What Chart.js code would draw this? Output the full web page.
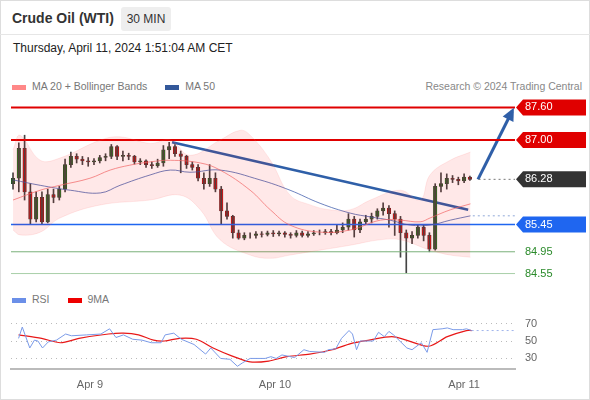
<!DOCTYPE html>
<html><head><meta charset="utf-8">
<script src="https://cdn.jsdelivr.net/npm/chart.js@4/dist/chart.umd.min.js"></script>
<style>
body{margin:0;width:590px;height:400px;font-family:"Liberation Sans",Arial,sans-serif;background:#fff;position:relative;overflow:hidden}
#frame{position:absolute;left:0;top:0;width:588px;height:398px;border:1px solid #ddd}
.t{position:absolute;white-space:nowrap}
#c1{position:absolute;left:0;top:90px}
#c2{position:absolute;left:0;top:300px}
</style></head><body>
<div id="frame"></div>
<div class="t" style="left:12px;top:10px;font-size:14px;font-weight:bold;color:#333">Crude Oil (WTI)</div>
<div class="t" style="left:121px;top:7px;width:50px;height:24px;background:#eee;border-radius:3px;font-size:12px;color:#333;line-height:24px;text-align:center">30 MIN</div>
<div class="t" style="left:0;top:34px;width:590px;border-top:1px solid #e6e6e6"></div>
<div class="t" style="left:13px;top:41px;font-size:12px;color:#222">Thursday, April 11, 2024 1:51:04 AM CET</div>
<div class="t" style="left:12px;top:80px;font-size:10.5px;color:#777"><span style="display:inline-block;width:14px;height:5px;background:#f88;vertical-align:middle;margin-right:6px"></span>MA 20 + Bollinger Bands<span style="display:inline-block;width:14px;height:5px;background:#33589a;vertical-align:middle;margin:0 6px 0 18px"></span>MA 50</div>
<div class="t" style="right:8px;top:80px;font-size:10.5px;color:#888">Research © 2024 Trading Central</div>
<div class="t" style="left:12px;top:293px;font-size:10.5px;color:#777"><span style="display:inline-block;width:14px;height:5px;background:#6b8fe8;vertical-align:middle;margin-right:6px"></span>RSI<span style="display:inline-block;width:14px;height:5px;background:#e00;vertical-align:middle;margin:0 6px 0 18px"></span>9MA</div>
<canvas id="c1" width="590" height="195"></canvas>
<canvas id="c2" width="590" height="100"></canvas>
<script>
// [open, high, low, close]
const candles = [
[86.20,86.40,86.10,86.30],[86.30,86.95,86.05,86.85],[86.85,87.09,85.90,86.05],[86.05,86.20,85.45,85.55],
[85.55,86.05,85.50,85.95],[85.95,86.05,85.45,85.50],[85.50,86.10,85.48,86.00],[86.00,86.10,85.85,85.95],
[85.95,86.15,85.90,86.10],[86.10,86.65,86.05,86.55],[86.55,86.78,86.50,86.70],[86.70,86.75,86.58,86.65],
[86.65,86.70,86.55,86.62],[86.62,86.68,86.52,86.60],[86.60,86.66,86.55,86.62],[86.62,86.72,86.58,86.68],
[86.68,86.75,86.62,86.70],[86.70,86.92,86.66,86.88],[86.88,86.90,86.64,86.70],[86.70,86.80,86.62,86.72],
[86.72,86.76,86.64,86.70],[86.70,86.72,86.56,86.60],[86.60,86.66,86.55,86.62],[86.62,86.64,86.50,86.55],
[86.55,86.60,86.48,86.53],[86.53,86.65,86.50,86.58],[86.58,86.90,86.52,86.82],[86.82,86.96,86.66,86.88],
[86.88,86.92,86.70,86.75],[86.75,86.80,86.40,86.70],[86.70,86.72,86.48,86.55],[86.55,86.60,86.45,86.50],
[86.50,86.55,86.25,86.30],[86.30,86.40,86.10,86.20],[86.20,86.55,86.15,86.30],[86.30,86.40,86.05,86.10],
[86.10,86.15,85.45,85.70],[85.70,85.85,85.55,85.60],[85.60,85.62,85.20,85.30],[85.30,85.35,85.18,85.20],
[85.20,85.30,85.17,85.25],[85.25,85.30,85.20,85.25],[85.25,85.32,85.20,85.28],[85.28,85.32,85.22,85.27],
[85.27,85.33,85.24,85.30],[85.30,85.34,85.23,85.28],[85.28,85.33,85.24,85.30],[85.30,85.32,85.22,85.27],
[85.27,85.30,85.20,85.25],[85.25,85.34,85.22,85.30],[85.30,85.33,85.22,85.25],[85.25,85.32,85.22,85.28],
[85.28,85.34,85.25,85.30],[85.30,85.35,85.26,85.30],[85.30,85.36,85.27,85.32],[85.32,85.36,85.26,85.30],
[85.30,85.45,85.28,85.35],[85.35,85.48,85.30,85.40],[85.40,85.65,85.35,85.55],[85.55,85.60,85.22,85.35],
[85.35,85.55,85.30,85.50],[85.50,85.62,85.45,85.55],[85.55,85.66,85.48,85.60],[85.60,85.74,85.55,85.70],
[85.70,85.85,85.62,85.75],[85.75,85.80,85.40,85.65],[85.65,85.70,85.25,85.55],[85.55,85.60,84.85,85.30],
[85.30,85.35,84.55,85.20],[85.20,85.32,85.10,85.25],[85.25,85.45,85.20,85.40],[85.40,85.45,85.15,85.25],
[85.25,85.30,84.95,85.00],[85.00,86.20,84.98,86.15],[86.15,86.40,86.05,86.20],[86.20,86.38,86.10,86.30],
[86.30,86.35,86.22,86.28],[86.28,86.32,86.18,86.25],[86.25,86.38,86.22,86.32],[86.32,86.34,86.26,86.28]];
const bbUpper = [[0,86.82],[1.2,87.09],[4.7,86.63],[8.1,86.67],[15.1,87.00],[18.5,87.06],[23.7,86.94],[27.2,87.00],[30.6,86.72],[35.8,87.00],[39.3,87.18],[41,87.09],[44.5,86.63],[47.9,85.99],[51.4,85.81],[54.8,85.72],[58.3,85.72],[61.8,85.90],[67,86.08],[70.4,85.90],[72.1,86.36],[75.6,86.63],[79.1,86.78]];
const bbLower = [[0,85.35],[1.2,85.26],[4.7,85.31],[8.1,85.57],[15.1,85.81],[23.7,85.90],[28.9,85.99],[32.4,85.72],[35.8,85.17],[41,84.89],[44.5,84.83],[47.9,84.89],[53.1,84.98],[58.3,85.07],[63.5,85.17],[67,85.17],[72.1,84.98],[75.6,84.89],[79.1,84.85]];
const ma20 = [[0,85.90],[4.7,86.08],[8.1,86.17],[13.3,86.30],[16.8,86.45],[20.2,86.54],[23.7,86.60],[27.2,86.63],[32.4,86.58],[35.8,86.45],[41,86.08],[44.5,85.72],[47.9,85.44],[53.1,85.31],[58.3,85.35],[63.5,85.53],[67,85.53],[70.4,85.50],[72.1,85.57],[75.6,85.72],[79.1,85.83]];
const ma50 = [[0,86.27],[4.7,86.17],[9.9,86.08],[15.1,86.03],[18.5,86.17],[23.7,86.36],[27.2,86.45],[30.6,86.41],[35.8,86.45],[42.7,86.27],[47.9,86.08],[53.1,85.84],[58.3,85.66],[61.8,85.59],[65.2,85.53],[68.7,85.44],[72.1,85.44],[75.6,85.53],[79.1,85.61]];
const levels = [87.60, 87.00, 86.28, 85.45, 84.95, 84.55];
const trendLine = [[27.5,86.96],[78.7,85.72]];
const arrowLine = [[80.4,86.28],[86.3,87.53]];
const rsi = [[0.96,53],[1.6,66],[2.9,42],[3.7,51],[4.3,50],[5.1,42],[6.1,49],[7.5,51],[9.1,58],[10.1,56],[12.7,57],[15.2,58],[16.7,64],[17.8,54],[19.1,57],[20.7,52],[22.3,51],[23.9,48],[25.6,48],[26.3,57],[27.8,59],[29.1,52],[31.3,46],[33.3,35],[34.2,42],[35.9,30],[37.5,29],[38.8,21],[39.7,25],[41.0,30],[43.6,30],[44.6,32],[45.5,30],[46.5,34],[48.7,31],[50.3,40],[51.3,38],[53.9,37],[54.5,40],[55.8,41],[56.8,53],[58.1,62],[58.7,58],[59.4,40],[60.0,50],[62.3,50],[63.2,60],[64.2,55],[65.0,61],[65.8,57],[68.1,42],[69.0,40],[70.6,48],[71.6,37],[72.6,63],[74.2,64],[75.1,65],[76.1,63],[77.7,63],[78.4,64],[79.3,62]];
const rsiMA = [[0.96,57],[4.95,53],[8.2,48],[11.4,53],[16.5,58],[19.1,59],[21.7,57],[24.3,51],[26.2,50],[28.8,53],[31.7,52],[34.6,42],[37.8,33],[41.0,26],[44.2,27],[47.4,32],[51.3,35],[55.2,40],[58.4,47],[61.6,51],[65.5,55],[68.0,51],[71.9,44],[75.1,55],[78.4,62],[79.3,62]];
const rsiLast = 62;
const xLabels = [[13.3,'Apr 9'],[45.3,'Apr 10'],[78.0,'Apr 11']];

const XMIN=-0.35, XMAX=86.8;
const pts = a => a.map(p=>({x:p[0],y:p[1]}));
const hl = (v,x0,x1) => [{x:x0,y:v},{x:x1,y:v}];
const up = c => c[3]>=c[0];
const GREEN='#1f7a1f', RED='#e01010';
const line = (data,color,w,extra) => Object.assign({type:'line',data,borderColor:color,borderWidth:w,pointRadius:0,fill:false,tension:0},extra||{});

const tags = {
  id:'tags',
  afterDatasetsDraw(ch){
    const ctx=ch.ctx, y=ch.scales.y, x=ch.scales.x;
    const spec=[[87.60,'#e00000','#fff'],[87.00,'#e00000','#fff'],[86.28,'#333','#fff'],[85.45,'#1f66f0','#fff'],[84.95,null,'#2a8a2a'],[84.55,null,'#2a8a2a']];
    ctx.save(); ctx.font='11px "Liberation Sans",Arial'; ctx.textBaseline='middle';
    spec.forEach(([v,bg,fg])=>{
      const py=y.getPixelForValue(v), px=516;
      if(bg){ctx.fillStyle=bg;ctx.beginPath();ctx.moveTo(px,py);ctx.lineTo(px+7,py-8);ctx.lineTo(586,py-8);ctx.lineTo(586,py+8);ctx.lineTo(px+7,py+8);ctx.closePath();ctx.fill();}
      ctx.fillStyle=fg; ctx.fillText(v.toFixed(2),525,py);
    });
    const x1=x.getPixelForValue(arrowLine[1][0]), y1=y.getPixelForValue(arrowLine[1][1]);
    const x0=x.getPixelForValue(arrowLine[0][0]), y0=y.getPixelForValue(arrowLine[0][1]);
    const a=Math.atan2(y1-y0,x1-x0);
    ctx.fillStyle='#2f5fa8'; ctx.beginPath();
    ctx.moveTo(x1+4*Math.cos(a),y1+4*Math.sin(a));
    ctx.lineTo(x1-9*Math.cos(a)+6*Math.sin(a),y1-9*Math.sin(a)-6*Math.cos(a));
    ctx.lineTo(x1-9*Math.cos(a)-6*Math.sin(a),y1-9*Math.sin(a)+6*Math.cos(a));
    ctx.closePath(); ctx.fill(); ctx.restore();
  }
};

new Chart(document.getElementById('c1'),{
  type:'bar',
  data:{datasets:[
    line(pts(bbUpper),'rgba(255,120,120,0.15)',1,{fill:'+1',backgroundColor:'rgba(255,0,0,0.09)',tension:0.4}),
    line(pts(bbLower),'rgba(255,120,120,0.15)',1,{tension:0.4}),
    line(pts(ma20),'rgba(240,110,110,0.7)',1,{tension:0.4}),
    line(pts(ma50),'rgba(60,90,170,0.75)',1,{tension:0.4}),
    line(hl(levels[0],XMIN,XMAX),'#e00000',2),
    line(hl(levels[1],XMIN,XMAX),'#e00000',2),
    line(hl(levels[2],80.5,XMAX),'#777',1,{borderDash:[2,3]}),
    line(hl(levels[3],XMIN,XMAX),'#1f66f0',1.5),
    line(hl(85.61,79.5,XMAX),'#8fa8d8',1,{borderDash:[2,3]}),
    line(hl(levels[4],XMIN,XMAX),'#7ab07a',1),
    line(hl(levels[5],XMIN,XMAX),'#a8cfa8',1),
    {type:'bar',data:candles.map((c,i)=>({x:i,y:[c[2],c[1]]})),backgroundColor:'#444',barThickness:1,grouped:false},
    {type:'bar',data:candles.map((c,i)=>({x:i,y:[c[0],c[3]]})),backgroundColor:candles.map(c=>up(c)?GREEN:RED),borderColor:'#333',borderWidth:0.5,borderSkipped:false,barThickness:3.5,grouped:false},
    line(pts(trendLine),'#2f5fa8',2.5),
    line(pts(arrowLine),'#2f5fa8',3),
  ]},
  options:{responsive:false,animation:false,events:[],
    layout:{padding:{left:11,right:75,top:0,bottom:0}},
    plugins:{legend:{display:false},tooltip:{enabled:false}},
    scales:{x:{type:'linear',min:XMIN,max:XMAX,display:false,offset:false},
            y:{min:84.34,max:87.92,display:false}}},
  plugins:[tags]
});

new Chart(document.getElementById('c2'),{
  type:'line',
  data:{datasets:[
    line(pts(rsi),'#7b9be8',1),
    line(pts(rsiMA),'#e81818',1.2,{tension:0.3}),
    line(hl(rsiLast,79.3,XMAX),'#9fb4ec',1,{borderDash:[2,3]})
  ]},
  options:{responsive:false,animation:false,events:[],
    layout:{padding:{left:11,right:0,top:2,bottom:6}},
    plugins:{legend:{display:false},tooltip:{enabled:false}},
    scales:{
      x:{type:'linear',min:XMIN,max:XMAX,offset:false,
         afterBuildTicks(s){s.ticks=xLabels.map(l=>({value:l[0]}));},
         ticks:{callback:(v)=>{const f=xLabels.find(l=>l[0]===v);return f?f[1]:'';},color:'#666',font:{size:11,family:'"Liberation Sans",Arial'},maxRotation:0,padding:2},
         grid:{display:false},border:{color:'#bbb',width:2}},
      y:{position:'right',min:18.1,max:78,
         afterBuildTicks(s){s.ticks=[30,50,70].map(v=>({value:v}));},
         afterFit(s){s.width=75;},
         ticks:{color:'#666',font:{size:11,family:'"Liberation Sans",Arial'},padding:10},
         grid:{color:'#bbb',drawTicks:false},border:{display:false,dash:[1,4]}}
    }}
});
</script></body></html>
